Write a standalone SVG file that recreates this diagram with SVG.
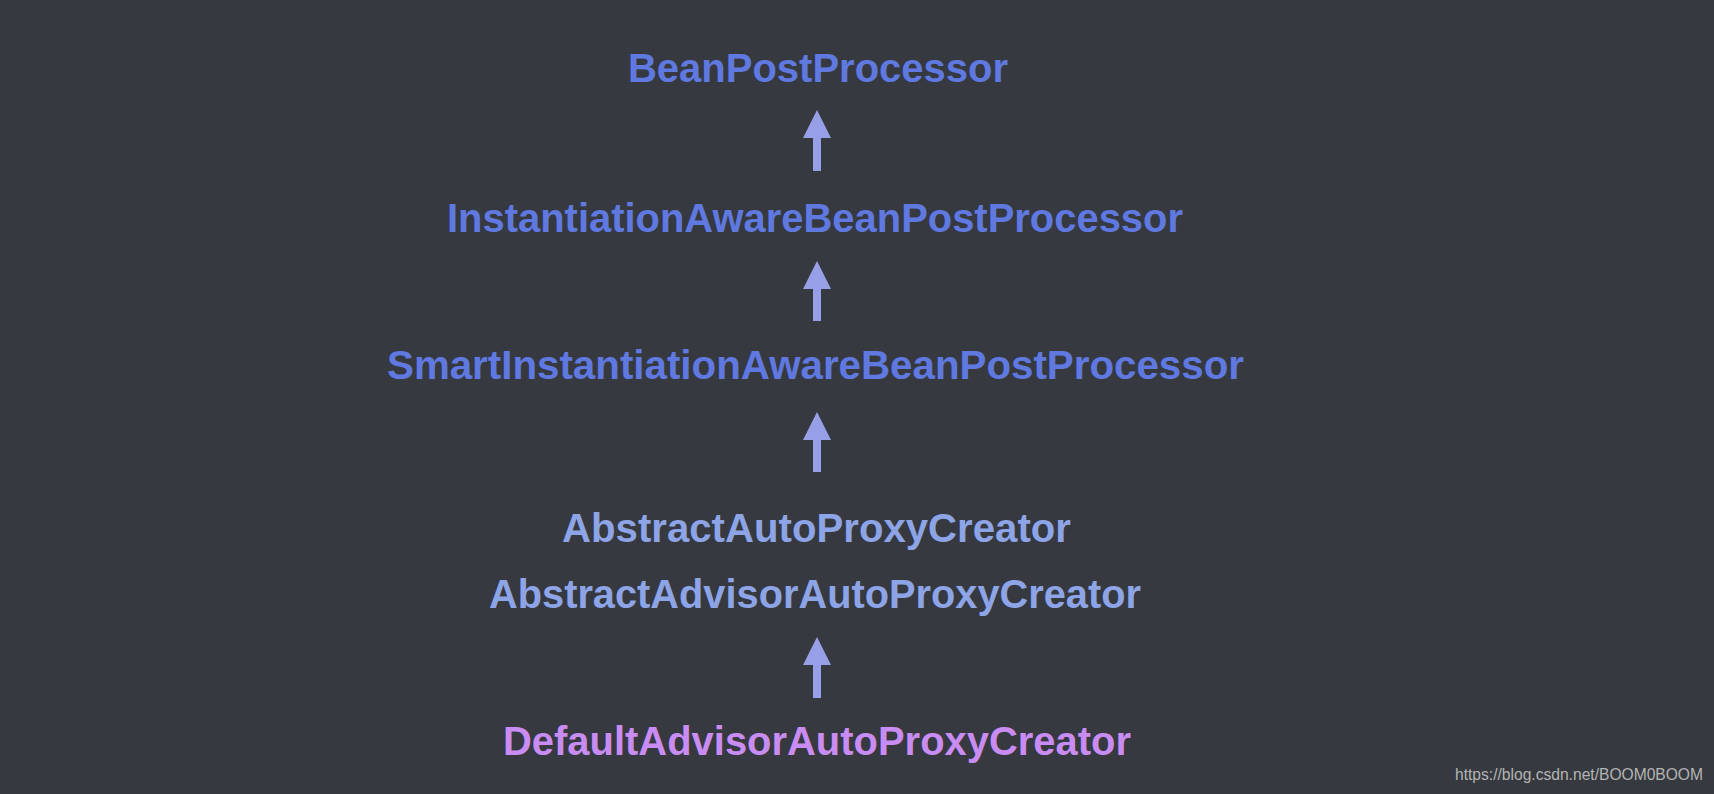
<svg xmlns="http://www.w3.org/2000/svg" width="1714" height="794" viewBox="0 0 1714 794">
<style>
.t{font-family:"Liberation Sans",Arial,sans-serif;font-weight:bold;font-size:40px;text-anchor:middle}
.top{fill:#5f79e0}
.mid{fill:#8da4e6}
.leaf{fill:#c98cf2}
.arr{stroke:#97a0e6;stroke-width:8;fill:none;marker-end:url(#ah)}
.wm{font-family:"Liberation Sans",Arial,sans-serif;font-size:16px;fill:#b4b4b4;text-anchor:end}
</style>
<defs>
<marker id="ah" markerUnits="userSpaceOnUse" markerWidth="28" markerHeight="28" refX="0" refY="14" orient="auto" viewBox="0 0 28 28">
<path d="M0,0 L28,14 L0,28 z" fill="#97a0e6"/>
</marker>
</defs>
<rect width="1714" height="794" fill="#36393f"/>
<g id="n1"><text class="t top" x="818" y="82" textLength="380" lengthAdjust="spacingAndGlyphs">BeanPostProcessor</text></g>
<g id="n2"><text class="t top" x="815" y="232" textLength="736" lengthAdjust="spacingAndGlyphs">InstantiationAwareBeanPostProcessor</text></g>
<g id="n3"><text class="t top" x="815.5" y="379" textLength="857" lengthAdjust="spacingAndGlyphs">SmartInstantiationAwareBeanPostProcessor</text></g>
<g id="n4"><text class="t mid" x="816.5" y="542" textLength="509" lengthAdjust="spacingAndGlyphs">AbstractAutoProxyCreator</text></g>
<g id="n5"><text class="t mid" x="815" y="608" textLength="652" lengthAdjust="spacingAndGlyphs">AbstractAdvisorAutoProxyCreator</text></g>
<g id="n6"><text class="t leaf" x="817" y="755" textLength="628" lengthAdjust="spacingAndGlyphs">DefaultAdvisorAutoProxyCreator</text></g>
<g id="connectors">
<line class="arr" x1="817" y1="171" x2="817" y2="138"/>
<line class="arr" x1="817" y1="321" x2="817" y2="289"/>
<line class="arr" x1="817" y1="472" x2="817" y2="440"/>
<line class="arr" x1="817" y1="698" x2="817" y2="665"/>
</g>
<text class="wm" x="1703" y="780" textLength="248" lengthAdjust="spacingAndGlyphs">https://blog.csdn.net/BOOM0BOOM</text>
</svg>
